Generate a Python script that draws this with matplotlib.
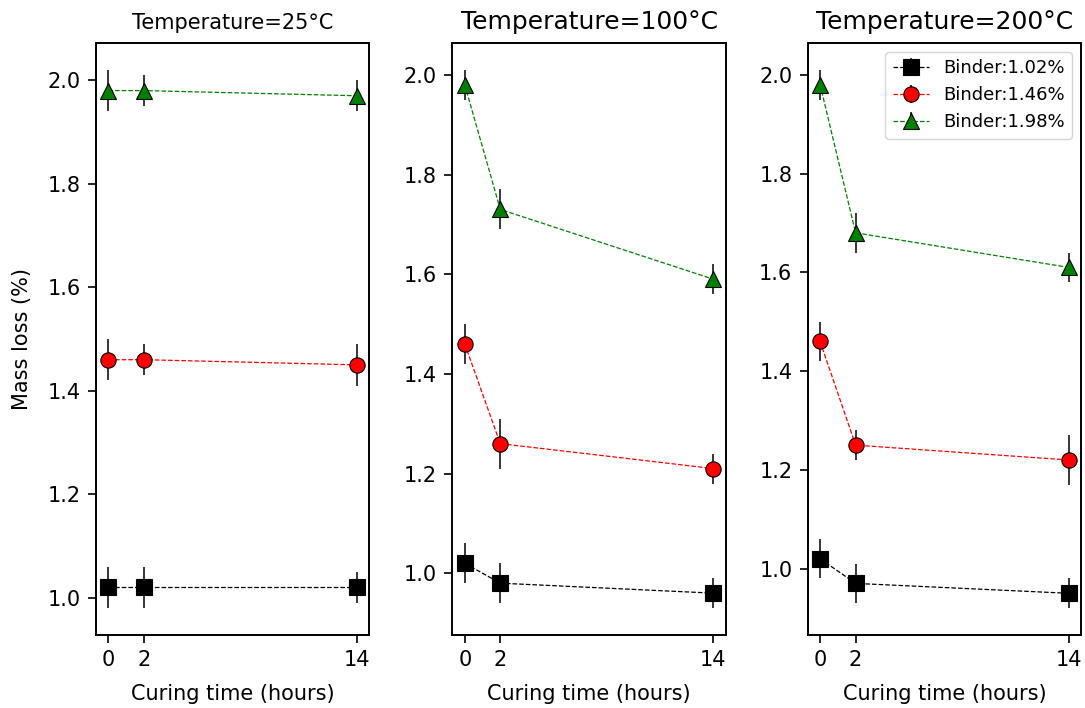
import numpy as np
import matplotlib
matplotlib.use('Agg')
import matplotlib.pyplot as plt

# curing time (hours)
hours = [0, 2, 14]
temperatures = ['25', '100', '200']
binders = ['Binder:1.02%', 'Binder:1.46%', 'Binder:1.98%']

# mass loss (%) per temperature, per binder
mass_25 = [[1.02, 1.02, 1.02], [1.46, 1.46, 1.45], [1.98, 1.98, 1.97]]
err_25 = [[0.04, 0.04, 0.03], [0.04, 0.03, 0.04], [0.04, 0.03, 0.03]]
mass_100 = [[1.02, 0.98, 0.96], [1.46, 1.26, 1.21], [1.98, 1.73, 1.59]]
err_100 = [[0.04, 0.04, 0.03], [0.04, 0.05, 0.03], [0.03, 0.04, 0.03]]
mass_200 = [[1.02, 0.97, 0.95], [1.46, 1.25, 1.22], [1.98, 1.68, 1.61]]
err_200 = [[0.04, 0.04, 0.03], [0.04, 0.03, 0.05], [0.03, 0.04, 0.03]]

masses = [mass_25, mass_100, mass_200]
errors = [err_25, err_100, err_200]

colors = ['k', 'r', 'g']
markers = ['s', 'o', '^']

fig = plt.figure(figsize=(10.85, 7.08), dpi=100)
lefts = [0.0885, 0.4169, 0.7444]
width = 0.252
title_sizes = [15, 18, 18]

for i in range(3):
    ax = fig.add_axes([lefts[i], 0.1031, width, 0.8362])
    for j in range(3):
        ax.errorbar(hours, masses[i][j], yerr=errors[i][j], color=colors[j],
                    ls='--', lw=0.9, marker=markers[j], ms=11,
                    mfc=colors[j], mec='k', mew=0.8,
                    ecolor='k', elinewidth=1.1, label=binders[j])
    ax.set_xticks(hours)
    ax.set_title('Temperature=' + temperatures[i] + '°C', fontsize=title_sizes[i], pad=10)
    ax.set_xlabel('Curing time (hours)', fontsize=15, labelpad=10)
    ax.tick_params(labelsize=15, width=1.2, length=6, pad=5)
    for sp in ax.spines.values():
        sp.set_linewidth(1.4)
    if i == 0:
        ax.set_ylabel('Mass loss (%)', fontsize=15, labelpad=11)
    if i == 2:
        ax.legend(loc='upper right', fontsize=13)

fig.savefig('out.png', dpi=100)
